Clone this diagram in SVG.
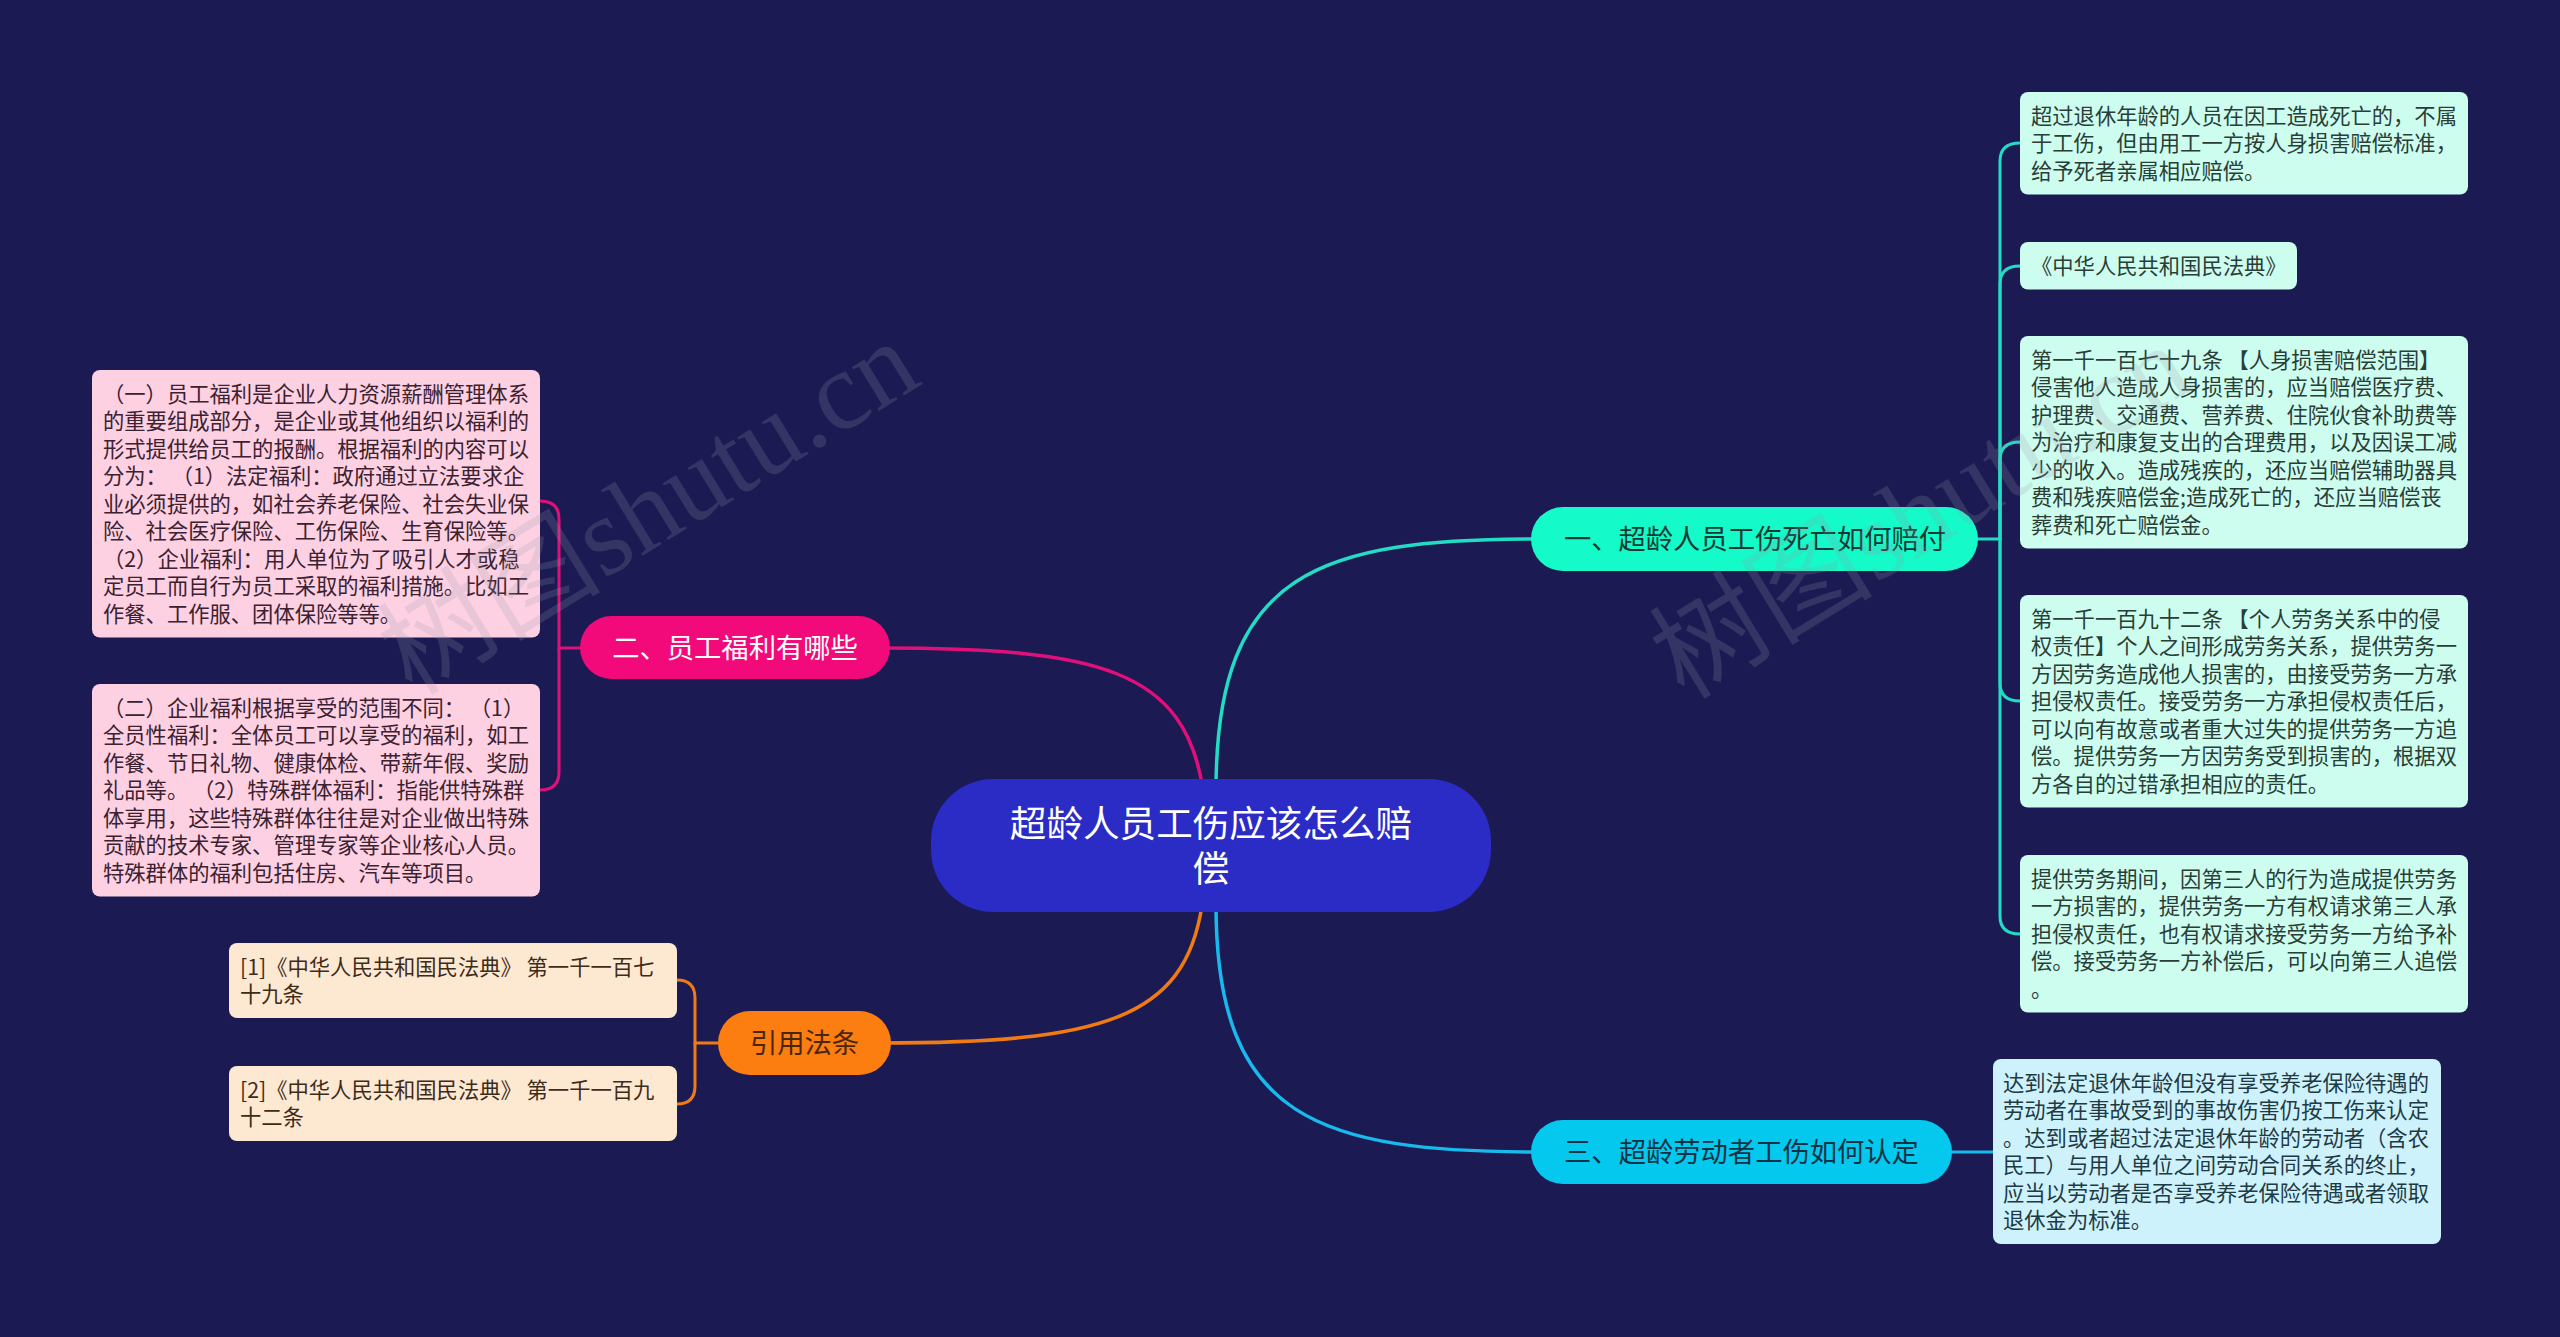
<svg xmlns="http://www.w3.org/2000/svg" width="2560" height="1337" viewBox="0 0 2560 1337">
<style>
.t{font-family:"Noto Sans CJK SC","Noto Sans",sans-serif;}
.leaf{font-size:21.3px;}
.c{fill:none;stroke-linecap:round;}
.teal{stroke:#22dcc4;}
.pink{stroke:#e0107a;}
.orng{stroke:#f07a14;}
.cyan{stroke:#18b9ec;}
.wm{font-family:"Liberation Serif","Noto Sans CJK SC",serif;font-size:112px;fill:#9a9aae;opacity:0.2;}
</style>
<rect x="0" y="0" width="2560" height="1337" fill="#1b1a53"/>
<g id="connectors">
<path class="c teal" stroke-width="3.5" d="M1216,790 C1216,570 1320,539 1540,539"/>
<path class="c pink" stroke-width="3.5" d="M1203,790 C1185,670 1100,648 880,648"/>
<path class="c orng" stroke-width="3.5" d="M1202,905 C1185,1020 1100,1043 880,1043"/>
<path class="c cyan" stroke-width="3.5" d="M1216,905 C1216,1120 1320,1152 1540,1152"/>
<g class="c teal" stroke-width="3">
<path d="M1975,539 H2000 V161 Q2000,143 2020,143"/>
<path d="M2000,539 V284 Q2000,266 2020,266"/>
<path d="M2000,539 V460 Q2000,442 2020,442"/>
<path d="M2000,539 V683 Q2000,701 2020,701"/>
<path d="M2000,539 V916 Q2000,934 2020,934"/>
</g>
<g class="c pink" stroke-width="3">
<path d="M583,648 H559 V519 Q559,501 540,501"/>
<path d="M559,648 V772 Q559,790 540,790"/>
</g>
<g class="c orng" stroke-width="3">
<path d="M721,1043 H695 V998 Q695,980 677,980"/>
<path d="M695,1043 V1086 Q695,1104 677,1104"/>
</g>
<path class="c cyan" stroke-width="3" d="M1948,1152 H1995"/>
</g>
<g id="center">
<rect x="931" y="779" width="560" height="133" rx="62" fill="#2b2bc5"/>
<text class="t" x="1211" y="837" font-size="36.6" fill="#ffffff" text-anchor="middle">超龄人员工伤应该怎么赔<tspan x="1211" dy="45">偿</tspan></text>
</g>
<g id="n1">
<rect x="1531" y="507" width="447" height="64" rx="32" fill="#14fac9"/>
<text class="t" x="1755" y="549" font-size="27.3" fill="#123a34" text-anchor="middle">一、超龄人员工伤死亡如何赔付</text>
</g>
<g id="n2">
<rect x="580" y="616" width="310" height="63" rx="31.5" fill="#f2097a"/>
<text class="t" x="735" y="658" font-size="27.3" fill="#ffffff" text-anchor="middle">二、员工福利有哪些</text>
</g>
<g id="n3">
<rect x="718" y="1011" width="173" height="64" rx="32" fill="#fd7e10"/>
<text class="t" x="804.5" y="1053" font-size="27.3" fill="#4a2608" text-anchor="middle">引用法条</text>
</g>
<g id="n4">
<rect x="1531" y="1120" width="421" height="64" rx="32" fill="#05c8ef"/>
<text class="t" x="1741.5" y="1162" font-size="27.3" fill="#0f3344" text-anchor="middle">三、超龄劳动者工伤如何认定</text>
</g>
<g id="r1">
<rect x="2020" y="92" width="448" height="102.5" rx="8" fill="#cdfdef"/>
<text class="t leaf" fill="#2a3d37"><tspan x="2031" y="123.75">超过退休年龄的人员在因工造成死亡的，不属</tspan><tspan x="2031" dy="27.5">于工伤，但由用工一方按人身损害赔偿标准，</tspan><tspan x="2031" dy="27.5">给予死者亲属相应赔偿。</tspan></text>
</g>
<g id="r2">
<rect x="2020" y="242" width="277" height="47.5" rx="8" fill="#cdfdef"/>
<text class="t leaf" fill="#2a3d37"><tspan x="2031" y="273.75">《中华人民共和国民法典》</tspan></text>
</g>
<g id="r3">
<rect x="2020" y="336" width="448" height="212.5" rx="8" fill="#cdfdef"/>
<text class="t leaf" fill="#2a3d37"><tspan x="2031" y="367.75">第一千一百七十九条 【人身损害赔偿范围】</tspan><tspan x="2031" dy="27.5">侵害他人造成人身损害的，应当赔偿医疗费、</tspan><tspan x="2031" dy="27.5">护理费、交通费、营养费、住院伙食补助费等</tspan><tspan x="2031" dy="27.5">为治疗和康复支出的合理费用，以及因误工减</tspan><tspan x="2031" dy="27.5">少的收入。造成残疾的，还应当赔偿辅助器具</tspan><tspan x="2031" dy="27.5">费和残疾赔偿金;造成死亡的，还应当赔偿丧</tspan><tspan x="2031" dy="27.5">葬费和死亡赔偿金。</tspan></text>
</g>
<g id="r4">
<rect x="2020" y="595" width="448" height="212.5" rx="8" fill="#cdfdef"/>
<text class="t leaf" fill="#2a3d37"><tspan x="2031" y="626.75">第一千一百九十二条 【个人劳务关系中的侵</tspan><tspan x="2031" dy="27.5">权责任】个人之间形成劳务关系，提供劳务一</tspan><tspan x="2031" dy="27.5">方因劳务造成他人损害的，由接受劳务一方承</tspan><tspan x="2031" dy="27.5">担侵权责任。接受劳务一方承担侵权责任后，</tspan><tspan x="2031" dy="27.5">可以向有故意或者重大过失的提供劳务一方追</tspan><tspan x="2031" dy="27.5">偿。提供劳务一方因劳务受到损害的，根据双</tspan><tspan x="2031" dy="27.5">方各自的过错承担相应的责任。</tspan></text>
</g>
<g id="r5">
<rect x="2020" y="855" width="448" height="157.5" rx="8" fill="#cdfdef"/>
<text class="t leaf" fill="#2a3d37"><tspan x="2031" y="886.75">提供劳务期间，因第三人的行为造成提供劳务</tspan><tspan x="2031" dy="27.5">一方损害的，提供劳务一方有权请求第三人承</tspan><tspan x="2031" dy="27.5">担侵权责任，也有权请求接受劳务一方给予补</tspan><tspan x="2031" dy="27.5">偿。接受劳务一方补偿后，可以向第三人追偿</tspan><tspan x="2031" dy="27.5">。</tspan></text>
</g>
<g id="r6">
<rect x="1993" y="1059" width="448" height="185" rx="8" fill="#cdf2fb"/>
<text class="t leaf" fill="#1f3a44"><tspan x="2003" y="1090.75">达到法定退休年龄但没有享受养老保险待遇的</tspan><tspan x="2003" dy="27.5">劳动者在事故受到的事故伤害仍按工伤来认定</tspan><tspan x="2003" dy="27.5">。达到或者超过法定退休年龄的劳动者（含农</tspan><tspan x="2003" dy="27.5">民工）与用人单位之间劳动合同关系的终止，</tspan><tspan x="2003" dy="27.5">应当以劳动者是否享受养老保险待遇或者领取</tspan><tspan x="2003" dy="27.5">退休金为标准。</tspan></text>
</g>
<g id="l1">
<rect x="92" y="370" width="448" height="267.5" rx="8" fill="#fdd0e2"/>
<text class="t leaf" fill="#3a2230"><tspan x="103" y="401.75">（一）员工福利是企业人力资源薪酬管理体系</tspan><tspan x="103" dy="27.5">的重要组成部分，是企业或其他组织以福利的</tspan><tspan x="103" dy="27.5">形式提供给员工的报酬。根据福利的内容可以</tspan><tspan x="103" dy="27.5">分为： （1）法定福利：政府通过立法要求企</tspan><tspan x="103" dy="27.5">业必须提供的，如社会养老保险、社会失业保</tspan><tspan x="103" dy="27.5">险、社会医疗保险、工伤保险、生育保险等。</tspan><tspan x="103" dy="27.5">（2）企业福利：用人单位为了吸引人才或稳</tspan><tspan x="103" dy="27.5">定员工而自行为员工采取的福利措施。比如工</tspan><tspan x="103" dy="27.5">作餐、工作服、团体保险等等。</tspan></text>
</g>
<g id="l2">
<rect x="92" y="684" width="448" height="212.5" rx="8" fill="#fdd0e2"/>
<text class="t leaf" fill="#3a2230"><tspan x="103" y="715.75">（二）企业福利根据享受的范围不同： （1）</tspan><tspan x="103" dy="27.5">全员性福利：全体员工可以享受的福利，如工</tspan><tspan x="103" dy="27.5">作餐、节日礼物、健康体检、带薪年假、奖励</tspan><tspan x="103" dy="27.5">礼品等。 （2）特殊群体福利：指能供特殊群</tspan><tspan x="103" dy="27.5">体享用，这些特殊群体往往是对企业做出特殊</tspan><tspan x="103" dy="27.5">贡献的技术专家、管理专家等企业核心人员。</tspan><tspan x="103" dy="27.5">特殊群体的福利包括住房、汽车等项目。</tspan></text>
</g>
<g id="c1">
<rect x="229" y="943" width="448" height="75" rx="8" fill="#fde8d2"/>
<text class="t leaf" fill="#3d2c1a"><tspan x="240" y="974.75">[1]《中华人民共和国民法典》 第一千一百七</tspan><tspan x="240" dy="27.5">十九条</tspan></text>
</g>
<g id="c2">
<rect x="229" y="1066" width="448" height="75" rx="8" fill="#fde8d2"/>
<text class="t leaf" fill="#3d2c1a"><tspan x="240" y="1097.75">[2]《中华人民共和国民法典》 第一千一百九</tspan><tspan x="240" dy="27.5">十二条</tspan></text>
</g>
<g id="watermarks">
<text class="wm" x="650" y="545" text-anchor="middle" transform="rotate(-31.5 650 510)">树图shutu.cn</text>
<text class="wm" x="1922" y="549" text-anchor="middle" transform="rotate(-31.5 1922 514)">树图shutu.cn</text>
</g>
</svg>
